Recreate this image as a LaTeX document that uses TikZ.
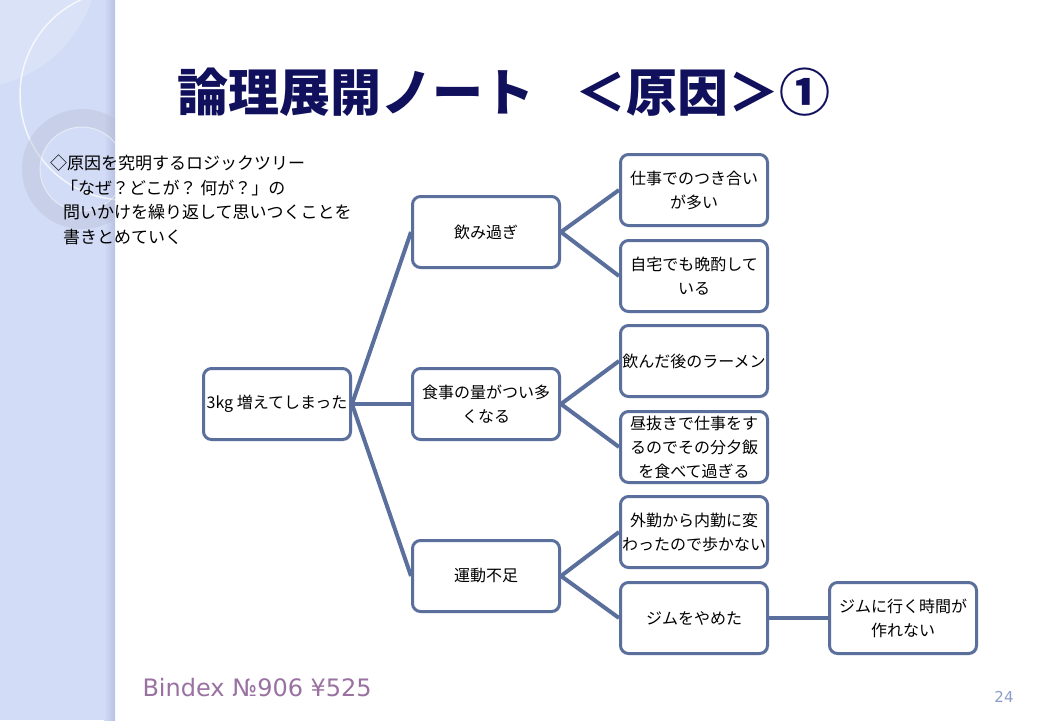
\documentclass[tikz,border=0pt]{standalone}
\usepackage{fontspec}
\setmainfont{Noto Sans CJK JP}
\newfontfamily\footfont{DejaVu Sans}
\usetikzlibrary{shadows}
\definecolor{bandblue}{HTML}{D3DCF6}
\definecolor{bandedge}{HTML}{B7C2E2}
\definecolor{boxline}{HTML}{5B6F9D}
\definecolor{titlenavy}{HTML}{10105C}
\definecolor{footpurple}{HTML}{9A72A2}
\definecolor{pagenum}{HTML}{8E9CCB}

\begin{document}
\begin{tikzpicture}[
            x=1pt,
            y=-1pt,
            block/.style={
                draw=boxline,
                line width=3pt,
                fill=white,
                rounded corners=8pt,
                minimum width=147pt,
                minimum height=71pt,
                align=center,
                inner sep=1pt,
                font=\fontsize{16}{24}\selectfont,
                drop shadow={opacity=0.2, shadow xshift=1.5pt, shadow yshift=-1.5pt}
            },
            link/.style={
                draw=boxline,
                line width=4pt
            }
        ]
            \useasboundingbox (0,0) rectangle (1040,720);
            \fill[white] (0,0) rectangle (1040,720);
            \fill[bandblue] (0,0) rectangle (115,720);
            \shade[left color=bandblue, right color=bandedge] (104,0) rectangle (115,720);
            \begin{scope}
                \clip (0,0) rectangle (115,720);
                \fill[white, opacity=0.18] (-30,-40) circle (128);
                \draw[white, opacity=0.75, line width=1.5pt] (125,95) circle (105);
                \draw[boxline!45, opacity=0.4, line width=18pt] (82,169) circle (51);
                \draw[white, opacity=0.5, line width=1pt] (82,169) circle (42);
            \end{scope}

            \node[anchor=west, text=titlenavy, font=\fontsize{51}{51}\selectfont\bfseries] (title) at (174,92) {論理展開ノート\hspace{0.8em}＜原因＞①};
            \node[anchor=north west, align=left, inner sep=0pt, font=\fontsize{17}{24.5}\selectfont] (note) at (50,155) {%
                ◇原因を究明するロジックツリー\\
                \hspace*{11pt}「なぜ？どこが？ 何が？」の\\
                \hspace*{13pt}問いかけを繰り返して思いつくことを\\
                \hspace*{13pt}書きとめていく};

            \node[block] (weight) at (277,404) {3kg 増えてしまった};
            \node[block] (drink) at (486,232) {飲み過ぎ};
            \node[block] (meal) at (486,404) {食事の量がつい多\\くなる};
            \node[block] (exercise) at (486,576) {運動不足};
            \node[block] (work) at (694,190) {仕事でのつき合い\\が多い};
            \node[block] (home) at (694,276) {自宅でも晩酌して\\いる};
            \node[block] (ramen) at (694,361) {飲んだ後のラーメン};
            \node[block] (lunch) at (694,447) {昼抜きで仕事をす\\るのでその分夕飯\\を食べて過ぎる};
            \node[block] (desk) at (694,532) {外勤から内勤に変\\わったので歩かない};
            \node[block] (gym) at (694,618) {ジムをやめた};
            \node[block] (time) at (903,618) {ジムに行く時間が\\作れない};

            \draw[link] (weight.east) -- (drink.west);
            \draw[link] (weight.east) -- (meal.west);
            \draw[link] (weight.east) -- (exercise.west);
            \draw[link] (drink.east) -- (work.west);
            \draw[link] (drink.east) -- (home.west);
            \draw[link] (meal.east) -- (ramen.west);
            \draw[link] (meal.east) -- (lunch.west);
            \draw[link] (exercise.east) -- (desk.west);
            \draw[link] (exercise.east) -- (gym.west);
            \draw[link] (gym.east) -- (time.west);

            \node[anchor=west, text=footpurple, font=\footfont\fontsize{24}{24}\selectfont] (footer) at (139,688) {Bindex №906 ¥525};
            \node[text=pagenum, font=\footfont\fontsize{15}{15}\selectfont] (page) at (1004,697) {24};
        \end{tikzpicture}
\end{document}
